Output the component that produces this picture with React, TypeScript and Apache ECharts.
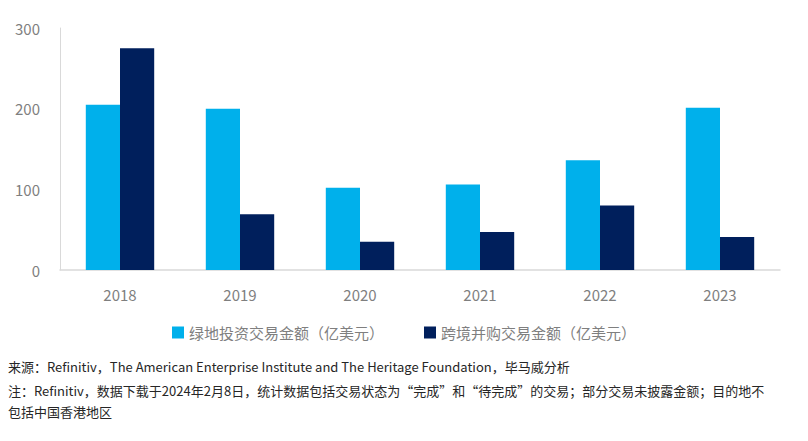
import React, { useEffect, useRef } from "react";
import * as echarts from "echarts";

const categories = ["2018", "2019", "2020", "2021", "2022", "2023"];
const greenfield = [205, 200, 102, 106, 136, 201];
const crossBorder = [275, 69, 35, 47, 80, 41];
const seriesNames = ["绿地投资交易金额（亿美元）", "跨境并购交易金额（亿美元）"];
const sourceText = "来源：Refinitiv，The American Enterprise Institute and The Heritage Foundation，毕马威分析";
const noteLine1 = "注：Refinitiv，数据下载于2024年2月8日，统计数据包括交易状态为“完成”和“待完成”的交易；部分交易未披露金额；目的地不";
const noteLine2 = "包括中国香港地区";

const FONT = "'Noto Sans CJK SC', 'Noto Sans', sans-serif";

export default function App() {
  const ref = useRef<HTMLDivElement>(null);
  useEffect(() => {
    const chart = echarts.init(ref.current!, null, { renderer: "svg" });
    chart.setOption({
      animation: false,
      textStyle: { fontFamily: FONT },
      grid: { left: 60, right: 28, top: 28, bottom: 171, containLabel: false },
      legend: {
        top: 320,
        left: "center",
        itemWidth: 12,
        itemHeight: 12,
        itemGap: 40,
        icon: "rect",
        textStyle: { fontSize: 15, color: "#7F7F7F", fontFamily: FONT },
        data: seriesNames,
      },
      xAxis: {
        type: "category",
        data: categories,
        axisLine: { lineStyle: { color: "#D9D9D9", width: 1.5 } },
        axisTick: { show: false },
        axisLabel: { color: "#7F7F7F", fontSize: 15, margin: 17, fontFamily: FONT },
      },
      yAxis: {
        type: "value",
        min: 0,
        max: 300,
        interval: 100,
        axisLine: { show: true, lineStyle: { color: "#D9D9D9", width: 1 } },
        axisTick: { show: false },
        splitLine: { show: false },
        axisLabel: { color: "#7F7F7F", fontSize: 15, margin: 20, fontFamily: FONT },
      },
      series: [
        {
          name: seriesNames[0],
          type: "bar",
          data: greenfield,
          barGap: "0%",
          barCategoryGap: "43%",
          itemStyle: { color: "#00B0EB" },
        },
        {
          name: seriesNames[1],
          type: "bar",
          data: crossBorder,
          barGap: "0%",
          barCategoryGap: "43%",
          itemStyle: { color: "#001F5C" },
        },
      ],
      graphic: [
        {
          type: "text",
          left: 8,
          top: 358,
          style: { text: sourceText, fontSize: 13, lineHeight: 16, fill: "#262626", fontFamily: FONT },
        },
        {
          type: "text",
          left: 8,
          top: 382,
          style: { text: noteLine1, fontSize: 13, lineHeight: 16, fill: "#262626", fontFamily: FONT },
        },
        {
          type: "text",
          left: 8,
          top: 403,
          style: { text: noteLine2, fontSize: 13, lineHeight: 16, fill: "#262626", fontFamily: FONT },
        },
      ],
    });
    return () => chart.dispose();
  }, []);
  return <div ref={ref} style={{ width: 808, height: 441, position: "absolute", left: 0, top: 0 }} />;
}
